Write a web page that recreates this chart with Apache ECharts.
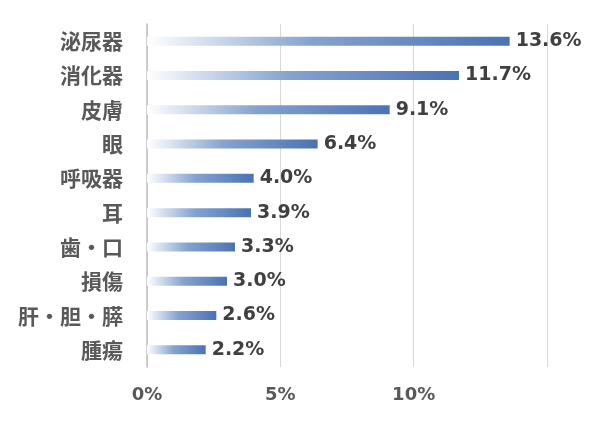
<!DOCTYPE html>
<html>
<head>
<meta charset="utf-8">
<script src="https://cdn.jsdelivr.net/npm/echarts@6/dist/echarts.min.js"></script>
<style>
html,body{margin:0;padding:0;background:#fff;}
#c{width:604px;height:426px;}
</style>
</head>
<body>
<div id="c"></div>
<script>
var categories = ['泌尿器','消化器','皮膚','眼','呼吸器','耳','歯・口','損傷','肝・胆・膵','腫瘍'];
var values = [13.6, 11.7, 9.1, 6.4, 4.0, 3.9, 3.3, 3.0, 2.6, 2.2];
var tickLabels = {0:'0%', 5:'5%', 10:'10%', 15:''};

var chart = echarts.init(document.getElementById('c'));
chart.setOption({
  animation: false,
  grid: {left: 147, right: 57, top: 24, bottom: 59, containLabel: false},
  xAxis: {
    type: 'value', min: 0, max: 15, interval: 5,
    axisLine: {show: false}, axisTick: {show: false},
    splitLine: {show: true, lineStyle: {color: '#d9d9d9', width: 1}},
    axisLabel: {
      margin: 19,
      fontFamily: 'DejaVu Sans', fontWeight: 'bold', fontSize: 18, color: '#595959',
      formatter: function(v){ return tickLabels[v] !== undefined ? tickLabels[v] : ''; }
    }
  },
  yAxis: {
    type: 'category', data: categories, inverse: true,
    axisLine: {show: true, lineStyle: {color: '#bfbfbf', width: 1.5}},
    axisTick: {show: false},
    axisLabel: {
      margin: 24,
      fontFamily: 'Noto Sans CJK JP', fontWeight: 'bold', fontSize: 21, color: '#595959'
    }
  },
  series: [{
    type: 'bar', data: values, barWidth: 9,
    itemStyle: {
      color: new echarts.graphic.LinearGradient(0, 0, 1, 0, [
        {offset: 0, color: 'rgba(255,255,255,1)'},
        {offset: 0.45, color: '#86a3cf'},
        {offset: 1, color: '#4a73b3'}
      ])
    },
    label: {
      show: true, position: 'right', distance: 6,
      fontFamily: 'DejaVu Sans', fontWeight: 'bold', fontSize: 19, color: '#404040',
      formatter: function(p){ return p.value.toFixed(1) + '%'; }
    }
  }]
});
</script>
</body>
</html>
